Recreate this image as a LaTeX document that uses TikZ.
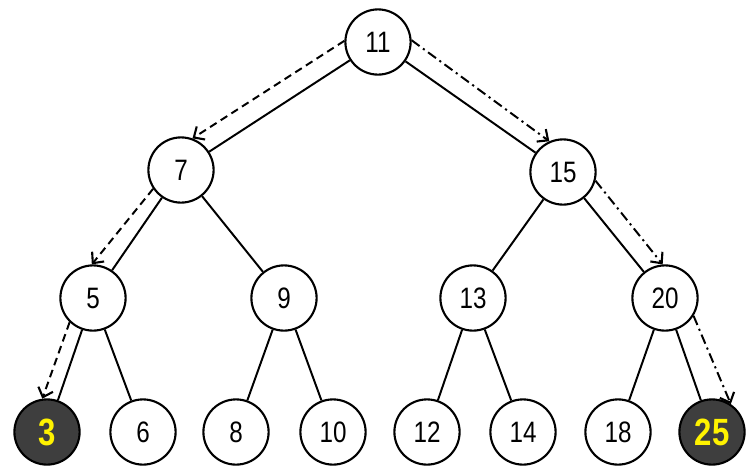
\documentclass[tikz,border=0pt]{standalone}
\usepackage{fontspec}
\setmainfont{Liberation Sans}
\newfontfamily\numfont[FakeStretch=0.82]{Liberation Sans}
\usepackage{tikz}
\usetikzlibrary{arrows.meta}
\definecolor{LeafDark}{RGB}{62,62,62}
\definecolor{MarkYellow}{RGB}{255,242,0}
\tikzset{
  v/.style={circle,draw=black,fill=white,line width=1.5pt,minimum size=1.63cm,inner sep=0pt,
    font=\numfont\fontsize{21}{24}\selectfont},
  hit/.style={v,fill=LeafDark,text=MarkYellow,font=\numfont\fontsize{27}{30}\selectfont\bfseries},
  link/.style={draw=black,line width=1.4pt},
}
\tikzset{leftway/.style={draw=black,line width=1.4pt,dash pattern=on 5.5pt off 3.5pt,-{Straight Barb[length=6pt,width=11pt,line width=1.5pt]}},
  rightway/.style={draw=black,line width=1.4pt,dash pattern=on 7pt off 3pt on 1.5pt off 3pt,-{Straight Barb[length=6pt,width=11pt,line width=1.5pt]}}}

\begin{document}
\begin{tikzpicture}[x=0.025cm,y=-0.025cm]
\useasboundingbox (0,0) rectangle (755,470);
\coordinate (p11) at (378,42);
\coordinate (p7) at (181,170);
\coordinate (p15) at (563,172);
\coordinate (p5) at (93,298);
\coordinate (p9) at (284,298);
\coordinate (p13) at (473,298);
\coordinate (p20) at (665,298);
\node[v] (n11) at (p11) {11};
\node[v] (n7) at (p7) {7};
\node[v] (n15) at (p15) {15};
\node[v] (n5) at (p5) {5};
\node[v] (n9) at (p9) {9};
\node[v] (n13) at (p13) {13};
\node[v] (n20) at (p20) {20};
\node[hit] (n3) at (47,432) {3};
\node[v] (n6) at (143,432) {6};
\node[v] (n8) at (236,432) {8};
\node[v] (n10) at (333,432) {10};
\node[v] (n12) at (427,432) {12};
\node[v] (n14) at (523,432) {14};
\node[v] (n18) at (618,432) {18};
\node[hit] (n25) at (712,432) {25};
\draw[link] (n11)--(n7);
\draw[link] (n11)--(n15);
\draw[link] (n7)--(n5);
\draw[link] (n7)--(n9);
\draw[link] (n15)--(n13);
\draw[link] (n15)--(n20);
\draw[link] (n5)--(n3);
\draw[link] (n5)--(n6);
\draw[link] (n9)--(n8);
\draw[link] (n9)--(n10);
\draw[link] (n13)--(n12);
\draw[link] (n13)--(n14);
\draw[link] (n20)--(n18);
\draw[link] (n20)--(n25);
% search paths
\draw[leftway] (n11.178) -- (n7.70);
\draw[leftway] (n7.214) -- (n5.92);
\draw[leftway] (n5.226) -- (n3.98);
\draw[rightway] (n11.3) -- (n15.114);
\draw[rightway] (n15.345) -- (n20.94);
\draw[rightway] (n20.328) -- (n25.56);
\end{tikzpicture}
\end{document}
